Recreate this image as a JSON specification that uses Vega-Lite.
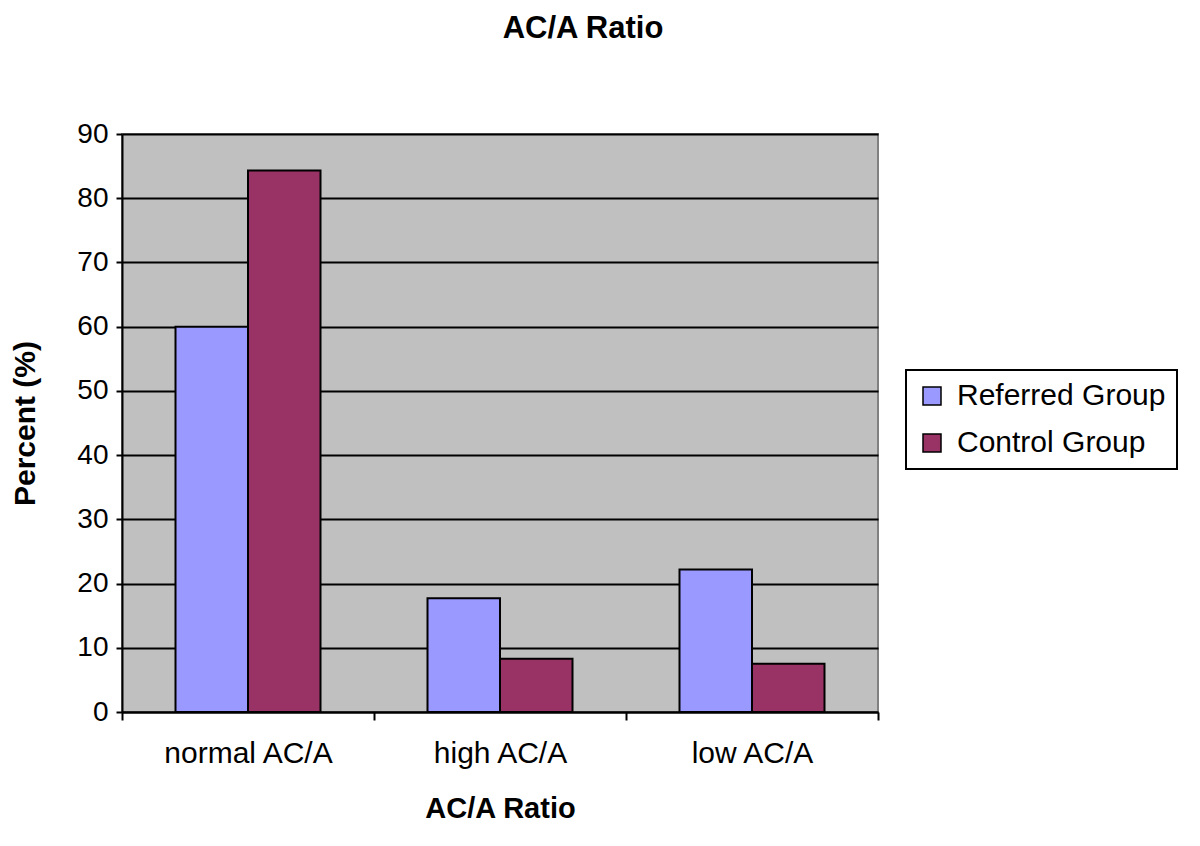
{
  "$schema": "https://vega.github.io/schema/vega-lite/v6.json",
  "autosize": "none",
  "width": 756,
  "height": 578,
  "padding": {"left": 122, "top": 134, "right": 322, "bottom": 134},
  "background": "white",
  "data": {
    "values": [
      {"ratio": "normal AC/A", "group": "Referred Group", "percent": 60.0},
      {"ratio": "normal AC/A", "group": "Control Group", "percent": 84.3},
      {"ratio": "high AC/A", "group": "Referred Group", "percent": 17.7},
      {"ratio": "high AC/A", "group": "Control Group", "percent": 8.3},
      {"ratio": "low AC/A", "group": "Referred Group", "percent": 22.2},
      {"ratio": "low AC/A", "group": "Control Group", "percent": 7.5}
    ]
  },
  "title": {
    "text": "AC/A Ratio",
    "font": "Liberation Sans",
    "fontSize": 31,
    "fontWeight": "bold",
    "color": "black",
    "anchor": "middle",
    "dx": 83,
    "offset": 75
  },
  "config": {
    "view": {"fill": "#C0C0C0", "stroke": "#808080", "strokeWidth": 2},
    "font": "Liberation Sans",
    "legend": {"strokeWidth": 2}
  },
  "mark": {"type": "bar", "stroke": "black", "strokeWidth": 2},
  "encoding": {
    "x": {
      "field": "ratio",
      "type": "nominal",
      "sort": ["normal AC/A", "high AC/A", "low AC/A"],
      "scale": {"paddingInner": 0, "paddingOuter": 0},
      "axis": {
        "title": "AC/A Ratio",
        "titleFont": "Liberation Sans",
        "titleFontSize": 29,
        "titleFontWeight": "bold",
        "titleColor": "black",
        "titlePadding": 26,
        "labelAngle": 0,
        "labelFont": "Liberation Sans",
        "labelFontSize": 30,
        "labelColor": "black",
        "labelPadding": 18,
        "tickBand": "extent",
        "tickColor": "black",
        "tickWidth": 2,
        "tickSize": 8,
        "domainColor": "black",
        "domainWidth": 2,
        "grid": false
      }
    },
    "xOffset": {
      "field": "group",
      "type": "nominal",
      "sort": ["Referred Group", "Control Group"],
      "scale": {"paddingInner": 0, "paddingOuter": 0.738}
    },
    "y": {
      "field": "percent",
      "type": "quantitative",
      "scale": {"domain": [0, 90], "nice": false},
      "axis": {
        "title": "Percent (%)",
        "titleFont": "Liberation Sans",
        "titleFontSize": 30,
        "titleFontWeight": "bold",
        "titleColor": "black",
        "titlePadding": 36,
        "values": [0, 10, 20, 30, 40, 50, 60, 70, 80, 90],
        "labelFont": "Liberation Sans",
        "labelFontSize": 28,
        "labelColor": "black",
        "labelPadding": 8,
        "tickColor": "black",
        "tickWidth": 2,
        "tickSize": 6,
        "domainColor": "black",
        "domainWidth": 2,
        "grid": true,
        "gridColor": "black",
        "gridWidth": 2,
        "gridOpacity": 1
      }
    },
    "color": {
      "field": "group",
      "type": "nominal",
      "sort": ["Referred Group", "Control Group"],
      "scale": {"domain": ["Referred Group", "Control Group"], "range": ["#9999FF", "#993366"]},
      "legend": {
        "title": null,
        "orient": "none",
        "legendX": 784,
        "legendY": 236,
        "strokeColor": "black",
        "fillColor": "white",
        "padding": 11,
        "labelFontSize": 30,
        "labelLimit": 400,
        "labelColor": "black",
        "labelFont": "Liberation Sans",
        "symbolType": "square",
        "symbolSize": 324,
        "symbolStrokeColor": "black",
        "symbolStrokeWidth": 1.5,
        "symbolOpacity": 1,
        "rowPadding": 17,
        "labelOffset": 10
      }
    }
  }
}
